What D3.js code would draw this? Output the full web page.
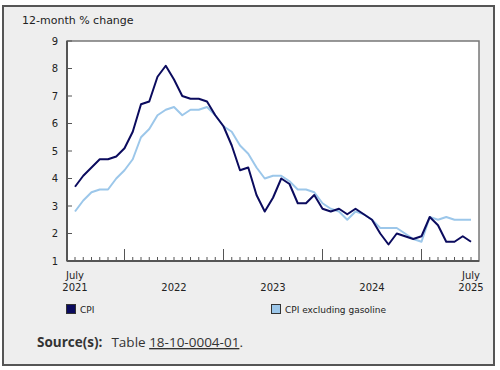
<!DOCTYPE html>
<html>
<head>
<meta charset="utf-8">
<script src="https://cdn.jsdelivr.net/npm/d3@7"></script>
<style>
  body { margin: 0; background: #fff; }
  svg { display: block; }
</style>
</head>
<body>
<div id="chart"></div>
<script>
// monthly values, July 2021 to July 2025
var months = d3.range(49).map(function(i) { return new Date(2021, 6 + i, 1); });

var cpi = [3.7, 4.1, 4.4, 4.7, 4.7, 4.8,
  5.1, 5.7, 6.7, 6.8, 7.7, 8.1, 7.6, 7.0, 6.9, 6.9, 6.8, 6.3,
  5.9, 5.2, 4.3, 4.4, 3.4, 2.8, 3.3, 4.0, 3.8, 3.1, 3.1, 3.4,
  2.9, 2.8, 2.9, 2.7, 2.9, 2.7, 2.5, 2.0, 1.6, 2.0, 1.9, 1.8,
  1.9, 2.6, 2.3, 1.7, 1.7, 1.9, 1.7];

var cpiExGas = [2.8, 3.2, 3.5, 3.6, 3.6, 4.0,
  4.3, 4.7, 5.5, 5.8, 6.3, 6.5, 6.6, 6.3, 6.5, 6.5, 6.6, 6.3,
  5.9, 5.7, 5.2, 4.9, 4.4, 4.0, 4.1, 4.1, 3.9, 3.6, 3.6, 3.5,
  3.1, 2.9, 2.8, 2.5, 2.8, 2.7, 2.5, 2.2, 2.2, 2.2, 2.0, 1.8,
  1.7, 2.6, 2.5, 2.6, 2.5, 2.5, 2.5];

var yTicks = [1, 2, 3, 4, 5, 6, 7, 8, 9];
var yearLabels = [
  {i: 0, top: "July", bottom: "2021"},
  {i: 12, top: "", bottom: "2022"},
  {i: 24, top: "", bottom: "2023"},
  {i: 36, top: "", bottom: "2024"},
  {i: 48, top: "July", bottom: "2025"}
];
var seriesNames = ["CPI", "CPI excluding gasoline"];
var colors = ["#0b0b5e", "#9cc7ea"];

var W = 500, H = 370;
var svg = d3.select("#chart").append("svg")
    .attr("width", W)
    .attr("height", H)
    .style("font-family", "'DejaVu Sans', Verdana, sans-serif");

// outer panel
svg.append("rect")
   .attr("x", 3).attr("y", 6)
   .attr("width", 491).attr("height", 359)
   .attr("fill", "#eeeeee")
   .attr("stroke", "#555")
   .attr("stroke-width", 2);

// plot frame
var plot = {left: 67, top: 41, right: 479, bottom: 261};

svg.append("rect")
   .attr("x", plot.left).attr("y", plot.top)
   .attr("width", plot.right - plot.left)
   .attr("height", plot.bottom - plot.top)
   .attr("fill", "#fff")
   .attr("stroke", "#777")
   .attr("stroke-width", 1.5);

var x = d3.scaleLinear()
    .domain([0, 48])
    .range([75, 471]);

var y = d3.scaleLinear()
    .domain([1, 9])
    .range([plot.bottom, plot.top]);

// title
svg.append("text")
   .attr("x", 22).attr("y", 24)
   .attr("font-size", "11px")
   .attr("fill", "#222")
   .text("12-month % change");

// y axis ticks inside the plot, labels outside
var yAxis = svg.append("g");
yAxis.selectAll("line")
   .data(yTicks)
   .enter().append("line")
     .attr("x1", plot.left).attr("x2", plot.left + 5)
     .attr("y1", function(d) { return y(d); })
     .attr("y2", function(d) { return y(d); })
     .attr("stroke", "#555");
yAxis.selectAll("text")
   .data(yTicks)
   .enter().append("text")
     .attr("x", 58)
     .attr("y", function(d) { return y(d) + 3.5; })
     .attr("text-anchor", "end")
     .attr("font-size", "10px")
     .attr("fill", "#222")
     .text(function(d) { return d; });

// x axis month ticks (January gets the long one)
svg.append("g").selectAll("line")
   .data(months)
   .enter().append("line")
     .attr("x1", function(d, i) { return x(i); })
     .attr("x2", function(d, i) { return x(i); })
     .attr("y1", plot.bottom)
     .attr("y2", function(d) { return d.getMonth() === 0 ? plot.bottom - 12 : plot.bottom - 4; })
     .attr("stroke", "#555");

// left axis and bottom axis lines drawn darker
svg.append("line")
   .attr("x1", plot.left).attr("x2", plot.left)
   .attr("y1", plot.top).attr("y2", plot.bottom)
   .attr("stroke", "#555").attr("stroke-width", 2);
svg.append("line")
   .attr("x1", plot.left).attr("x2", plot.right)
   .attr("y1", plot.bottom).attr("y2", plot.bottom)
   .attr("stroke", "#555").attr("stroke-width", 2);

var xl = svg.append("g").selectAll("g")
   .data(yearLabels)
   .enter().append("g");
xl.append("text")
   .attr("x", function(d) { return x(d.i); })
   .attr("y", 279)
   .attr("text-anchor", "middle")
   .attr("font-size", "10px")
   .attr("fill", "#222")
   .text(function(d) { return d.top; });
xl.append("text")
   .attr("x", function(d) { return x(d.i); })
   .attr("y", 291)
   .attr("text-anchor", "middle")
   .attr("font-size", "10px")
   .attr("fill", "#222")
   .text(function(d) { return d.bottom; });

// lines
var line = d3.line()
    .x(function(d, i) { return x(i); })
    .y(function(d) { return y(d); });

[cpiExGas, cpi].forEach(function(s, k) {
  svg.append("path")
     .datum(s)
     .attr("fill", "none")
     .attr("stroke", k === 0 ? colors[1] : colors[0])
     .attr("stroke-width", 2)
     .attr("stroke-linejoin", "round")
     .attr("d", line);
});

// legend
var legendX = [66, 271];
var lg = svg.append("g").selectAll("g")
   .data(seriesNames)
   .enter().append("g")
     .attr("transform", function(d, i) { return "translate(" + legendX[i] + ",304)"; });
lg.append("rect")
   .attr("x", 0.5).attr("y", 0.5)
   .attr("width", 9).attr("height", 9)
   .attr("fill", function(d, i) { return colors[i]; })
   .attr("stroke", "#333")
   .attr("stroke-width", 1);
lg.append("text")
   .attr("x", 14).attr("y", 9)
   .attr("font-size", "9px")
   .attr("fill", "#222")
   .text(function(d) { return d; });

// source
var src = svg.append("text")
   .attr("x", 37).attr("y", 347)
   .attr("font-family", "'Open Sans', sans-serif")
   .attr("font-size", "13.5px")
   .attr("fill", "#333");
src.append("tspan").attr("font-weight", "bold").text("Source(s):");
src.append("tspan").attr("dx", 9).text("Table ");
src.append("tspan").attr("text-decoration", "underline").text("18-10-0004-01");
src.append("tspan").text(".");
</script>
</body>
</html>
